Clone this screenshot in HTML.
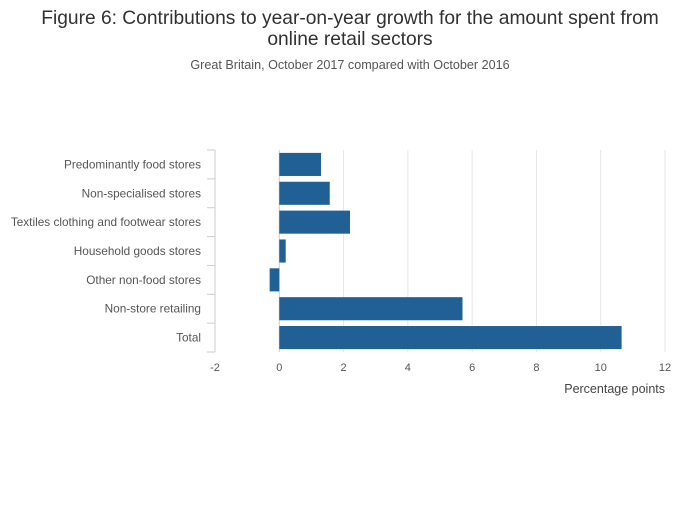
<!DOCTYPE html>
<html><head><meta charset="utf-8"><style>
body{margin:0;background:#fff;font-family:"Liberation Sans",sans-serif;}
svg text{font-family:"Liberation Sans",sans-serif;}
</style></head><body>
<svg id="chart" width="700" height="502">
<text x="350" y="24" text-anchor="middle" font-size="19.2" fill="#323132">Figure 6: Contributions to year-on-year growth for the amount spent from</text>
<text x="350" y="45" text-anchor="middle" font-size="19.2" fill="#323132">online retail sectors</text>
<text x="350" y="69" text-anchor="middle" font-size="12.6" fill="#555">Great Britain, October 2017 compared with October 2016</text>
<g id="grid"></g><g id="bars"></g><g id="labels"></g>
<text x="665" y="393" text-anchor="end" font-size="12.5" fill="#444">Percentage points</text>
</svg>
<script>
const categories=["Predominantly food stores","Non-specialised stores","Textiles clothing and footwear stores","Household goods stores","Other non-food stores","Non-store retailing","Total"];
const values=[1.3,1.57,2.2,0.2,-0.3,5.7,10.65];
const ticks=[-2,0,2,4,6,8,10,12];
const NS="http://www.w3.org/2000/svg";
const x0=215,x1=665,plotTop=150,plotBot=352,xmin=-2,xmax=12;
const xs=v=>x0+(v-xmin)/(xmax-xmin)*(x1-x0);
const band=(plotBot-plotTop)/categories.length;
const ys=i=>plotTop+band*i;
function mk(t,a,p){const e=document.createElementNS(NS,t);for(const k in a)e.setAttribute(k,a[k]);p.appendChild(e);return e;}
const grid=document.getElementById('grid'),bars=document.getElementById('bars'),labels=document.getElementById('labels');
ticks.forEach(t=>{
 const l=mk('line',{x1:xs(t),x2:xs(t),y1:plotTop,y2:plotBot,stroke:t===0?'#ccc':'#e6e6e6','stroke-width':1},grid);
 
 
 const tx=mk('text',{x:xs(t),y:plotBot+19,'text-anchor':'middle','font-size':11,fill:'#555'},labels);
 tx.textContent=t;
 
 
});
for(let i=0;i<=categories.length;i++){
 const l=mk('line',{x1:x0-8,x2:x0,y1:ys(i),y2:ys(i),stroke:'#ccc'},grid);
 
 
}
const ax=mk('line',{x1:x0,x2:x0,y1:plotTop,y2:plotBot,stroke:'#ccc'},grid);


categories.forEach((c,i)=>{
 const v=values[i],bh=band*0.8;
 const r=mk('rect',{x:Math.min(xs(0),xs(v)),y:ys(i)+(band-bh)/2,width:Math.abs(xs(v)-xs(0)),height:bh,fill:'#206095'},bars);
 
 
 const t=mk('text',{x:201,y:ys(i)+band/2+4,'text-anchor':'end','font-size':11.8,fill:'#555'},labels);
 t.textContent=c;
 
 
});
</script>
</body></html>
